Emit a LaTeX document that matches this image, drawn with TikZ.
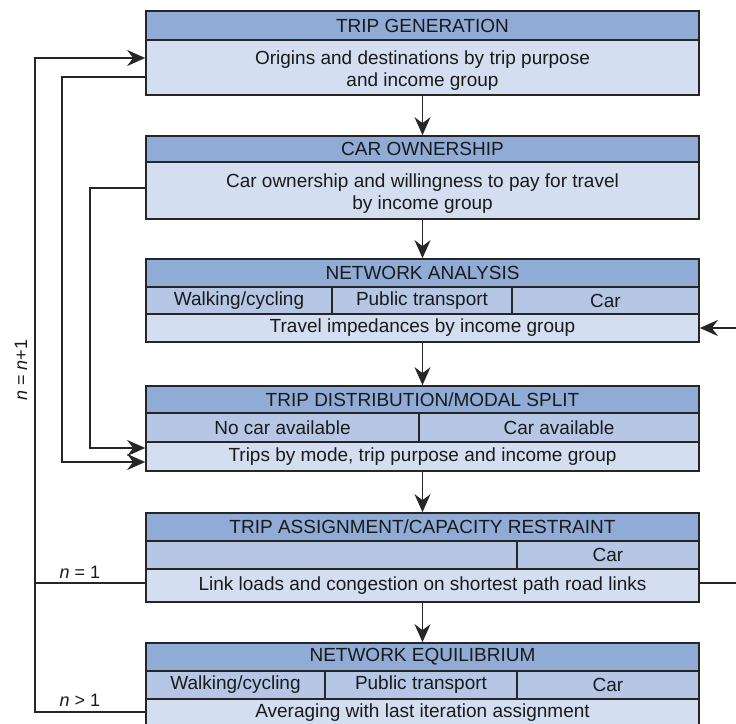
\documentclass[tikz,border=0pt]{standalone}
\usepackage{fontspec}
\setmainfont{Liberation Sans}
\usetikzlibrary{arrows.meta}
\definecolor{hdrc}{HTML}{8FABD6}
\definecolor{subc}{HTML}{B5C7E5}
\definecolor{bdyc}{HTML}{D3DEF0}
\definecolor{edgec}{HTML}{262626}
\definecolor{txtc}{HTML}{1A1A1A}
\begin{document}
\begin{tikzpicture}[x=1pt,y=-1pt,
  cell/.style={draw=edgec, line width=1.7pt, inner sep=0pt, text=txtc,
    font=\fontsize{19}{22}\selectfont, align=center},
  hdr/.style={cell, fill=hdrc, minimum width=553pt},
  sub/.style={cell, fill=subc},
  bdy/.style={cell, fill=bdyc, minimum width=553pt},
  twoline/.style={inner sep=0pt, text=txtc, font=\fontsize{19}{22}\selectfont, align=center, yshift=-3pt},
  conn/.style={draw=edgec, line width=1.5pt},
  arr/.style={conn, -{Stealth[length=18pt,width=16pt,inset=6pt]}},
  lbl/.style={inner sep=0pt, text=txtc, font=\fontsize{18}{20}\selectfont}]
\fill[white] (0,0) rectangle (736,723);
\useasboundingbox (0,0) rectangle (736,723);

% Box 1
\node[hdr, minimum height=29pt] (g1h) at (422.5,25.5) {TRIP GENERATION};
\node[bdy, minimum height=55pt, label={[twoline]center:{Origins and destinations by trip purpose\\and income group}}] (g1b) at (422.5,67.5) {};
% Box 2
\node[hdr, minimum height=26pt] (g2h) at (422.5,149) {CAR OWNERSHIP};
\node[bdy, minimum height=57pt, label={[twoline]center:{Car ownership and willingness to pay for travel\\by income group}}] (g2b) at (422.5,190.5) {};
% Box 3
\node[hdr, minimum height=28pt] (g3h) at (422.5,273) {NETWORK ANALYSIS};
\node[sub, minimum height=27pt, minimum width=186pt] (g3s1) at (239,300.5) {Walking/cycling};
\node[sub, minimum height=27pt, minimum width=180pt] (g3s2) at (422,300.5) {Public transport};
\node[sub, minimum height=27pt, minimum width=187pt] (g3s3) at (605.5,300.5) {Car};
\node[bdy, minimum height=28pt] (g3b) at (422.5,328) {Travel impedances by income group};
% Box 4
\node[hdr, minimum height=27pt] (g4h) at (422.5,399.5) {TRIP DISTRIBUTION/MODAL SPLIT};
\node[sub, minimum height=29pt, minimum width=273pt] (g4s1) at (282.5,427.5) {No car available};
\node[sub, minimum height=29pt, minimum width=280pt] (g4s2) at (559,427.5) {Car available};
\node[bdy, minimum height=29pt] (g4b) at (422.5,456.5) {Trips by mode, trip purpose and income group};
% Box 5
\node[hdr, minimum height=28pt] (g5h) at (422.5,527) {TRIP ASSIGNMENT/CAPACITY RESTRAINT};
\node[sub, minimum height=28pt, minimum width=371pt] (g5s1) at (331.5,555) {};
\node[sub, minimum height=28pt, minimum width=182pt] (g5s2) at (608,555) {Car};
\node[bdy, minimum height=33pt] (g5b) at (422.5,585.5) {Link loads and congestion on shortest path road links};
% Box 6
\node[hdr, minimum height=28pt] (g6h) at (422.5,657) {NETWORK EQUILIBRIUM};
\node[sub, minimum height=28pt, minimum width=179pt] (g6s1) at (235.5,685) {Walking/cycling};
\node[sub, minimum height=28pt, minimum width=192pt] (g6s2) at (421,685) {Public transport};
\node[sub, minimum height=28pt, minimum width=182pt] (g6s3) at (608,685) {Car};
\node[bdy, minimum height=28pt] (g6b) at (422.5,713) {Averaging with last iteration assignment};

% vertical flow arrows
\draw[arr] (g1b.south) -- (g2h.north);
\draw[arr] (g2b.south) -- (g3h.north);
\draw[arr] (g3b.south) -- (g4h.north);
\draw[arr] (g4b.south) -- (g5h.north);
\draw[arr] (g5b.south) -- (g6h.north);

% left loop
\coordinate (o1) at (35,58);
\coordinate (o2) at (35,712);
\coordinate (o3) at (35,583);
\draw[arr] (g6b.west |- o2) -- (o2) -- (o1) -- (g1b.west |- o1);
\draw[conn] (g5b.west |- o3) -- (o3);

\coordinate (m1) at (62,77);
\coordinate (m2) at (62,462);
\draw[arr] (g1b.west |- m1) -- (m1) -- (m2) -- (g4b.west |- m2);
\coordinate (p1) at (90,188);
\coordinate (p2) at (90,448);
\draw[arr] (g2b.west |- p1) -- (p1) -- (p2) -- (g4b.west |- p2);

% right stubs
\coordinate (r1) at (736,328);
\coordinate (r2) at (736,583);
\draw[arr] (r1) -- (g3b.east |- r1);
\draw[conn] (g5b.east |- r2) -- (r2);

% labels
\node[lbl, rotate=90] (ln) at (21,370) {\textit{n} = \textit{n}+1};
\node[lbl] (l1) at (80,572) {\textit{n} = 1};
\node[lbl] (l2) at (80,700) {\textit{n} > 1};
\end{tikzpicture}
\end{document}
